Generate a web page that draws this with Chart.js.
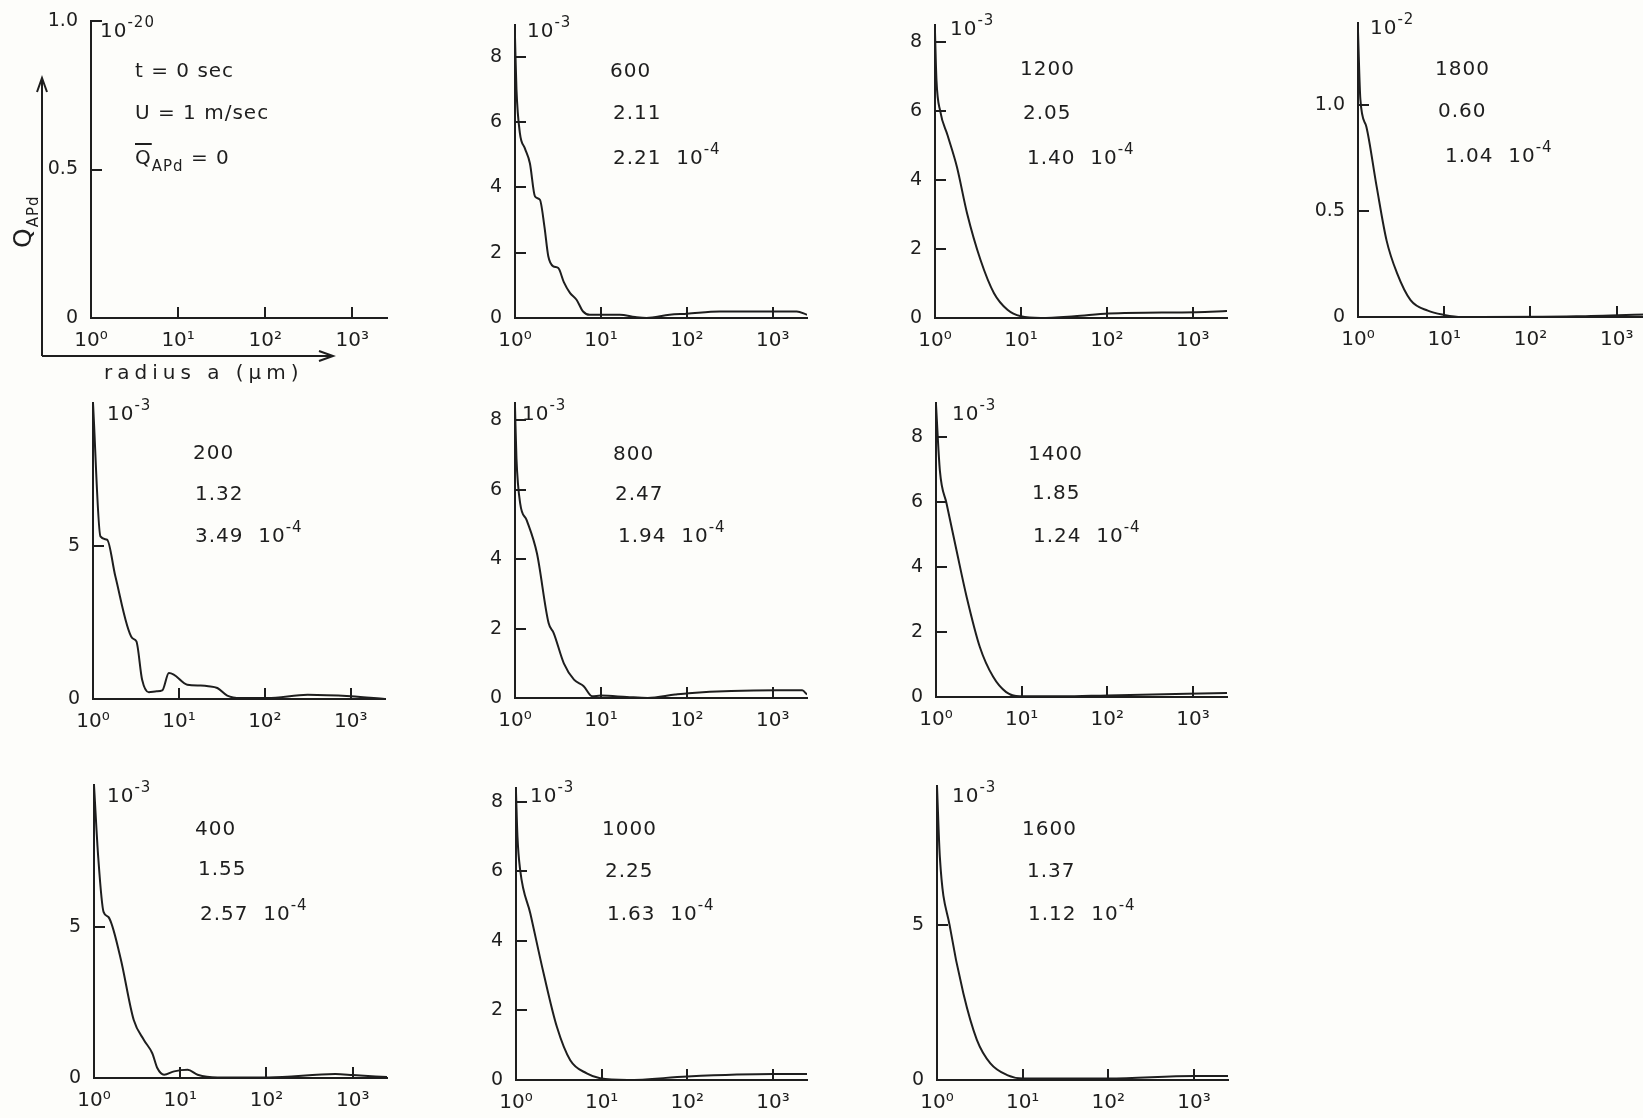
<!DOCTYPE html>
<html>
<head>
<meta charset="utf-8">
<script src="https://cdn.jsdelivr.net/npm/chart.js@4.4.1/dist/chart.umd.min.js"></script>
<style>
body{margin:0;width:1643px;height:1118px;overflow:hidden;background:#fdfdfa;font-family:"DejaVu Sans",sans-serif;color:#1e1e1e;position:relative}
canvas{position:absolute}
.t{position:absolute;font-size:20px;line-height:20px;letter-spacing:1px;white-space:nowrap}
.t sup{font-size:15px;vertical-align:0;position:relative;top:-10px}
.t sub{font-size:15px;vertical-align:0;position:relative;top:7px}
</style>
</head>
<body>
<svg width="1643" height="1118" style="position:absolute;left:0;top:0" id="arrows">
  <g stroke="#1e1e1e" stroke-width="2" fill="none">
    <line x1="42" y1="356" x2="42" y2="79"/>
    <polyline points="37,92 42,78 47,92"/>
    <line x1="42" y1="356" x2="332" y2="356"/>
    <polyline points="319,351 333,356 319,361"/>
  </g>
</svg>
<script>
// radius a (µm) and Q_APd per panel
var r0 = [];
var q0 = [];

var r600 = [1, 1.04, 1.14, 1.3, 1.49, 1.71, 1.95, 2.2, 2.44, 2.79, 3.19, 3.7, 4.36, 5.2, 6.2, 7.4, 9.8, 16.6, 25, 34, 63, 100, 240, 600, 1900, 2500];
var q600 = [8.6, 7.0, 5.66, 5.2, 4.74, 3.72, 3.62, 2.8, 1.89, 1.58, 1.53, 1.1, 0.77, 0.56, 0.2, 0.1, 0.1, 0.1, 0.03, 0.0, 0.1, 0.13, 0.2, 0.2, 0.2, 0.1];

var r1200 = [1, 1.04, 1.15, 1.4, 1.8, 2.36, 3.38, 4.86, 6.97, 10, 17, 42, 105, 1100, 2500];
var q1200 = [8.3, 6.9, 6.0, 5.3, 4.38, 3.04, 1.69, 0.72, 0.24, 0.05, 0, 0.05, 0.13, 0.17, 0.2];

var r1800 = [1, 1.065, 1.25, 1.64, 2.15, 2.82, 4.07, 6.45, 10, 16, 340, 2500];
var q1800 = [1.35, 1.03, 0.90, 0.62, 0.36, 0.21, 0.08, 0.03, 0.01, 0, 0.003, 0.013];

var r200 = [1, 1.22, 1.46, 1.82, 2.85, 3.2, 3.73, 4.47, 5.5, 6.4, 7.64, 8.7, 12.5, 17.9, 22, 28, 36.5, 52, 107, 315, 1000, 2500];
var q200 = [9.7, 5.33, 5.22, 4.02, 2.0, 1.89, 0.63, 0.22, 0.25, 0.28, 0.85, 0.8, 0.47, 0.44, 0.42, 0.36, 0.11, 0.03, 0.03, 0.14, 0.09, 0.0];

var r800 = [1, 1.04, 1.15, 1.37, 1.8, 2.46, 2.82, 3.7, 4.86, 6.3, 7.9, 10, 20, 35, 73, 105, 1100, 2200, 2500];
var q800 = [8.4, 6.9, 5.6, 5.12, 4.17, 2.16, 1.87, 1.0, 0.53, 0.34, 0.05, 0.07, 0.03, 0, 0.1, 0.14, 0.22, 0.22, 0.1];

var r1400 = [1, 1.11, 1.33, 1.74, 2.28, 3.25, 4.65, 6.6, 9.5, 30, 100, 2500];
var q1400 = [9.0, 6.97, 5.95, 4.5, 3.08, 1.54, 0.62, 0.15, 0.02, 0.02, 0.05, 0.12];

var r400 = [1, 1.12, 1.29, 1.47, 2.02, 2.89, 3.79, 4.74, 5.42, 6.5, 8.5, 12.2, 15.9, 27, 106, 630, 1000, 2500];
var q400 = [9.7, 7.3, 5.5, 5.33, 4.0, 1.92, 1.26, 0.82, 0.33, 0.11, 0.22, 0.27, 0.11, 0.02, 0.02, 0.13, 0.1, 0.03];

var r1000 = [1, 1.04, 1.12, 1.47, 2.1, 3.0, 4.3, 6.7, 9.6, 20, 100, 1000, 2500];
var q1000 = [8.3, 7.0, 6.03, 4.79, 3.07, 1.53, 0.57, 0.19, 0.05, 0.0, 0.1, 0.17, 0.17];

var r1600 = [1, 1.08, 1.41, 2.03, 2.92, 4.2, 6.6, 10, 100, 1000, 2500];
var q1600 = [9.5, 7.2, 4.97, 2.8, 1.3, 0.54, 0.16, 0.05, 0.05, 0.13, 0.13];

// ticks
var xTicks = [1, 10, 100, 1000];
var xTickLabels = ['10\u2070', '10\u00b9', '10\u00b2', '10\u00b3'];
var xMax = 2500;
var yTicksHalf = [0, 0.5, 1.0];
var yLabelsHalf = ['0', '0.5', '1.0'];
var yTicksEven = [0, 2, 4, 6, 8];
var yLabelsEven = ['0', '2', '4', '6', '8'];
var yTicksFive = [0, 5];
var yLabelsFive = ['0', '5'];

// panel annotations: time (s), second line, third line (x 10^-4), scale exponent
var times  = ['200', '400', '600', '800', '1000', '1200', '1400', '1600', '1800'];
var second = ['1.32', '1.55', '2.11', '2.47', '2.25', '2.05', '1.85', '1.37', '0.60'];
var third  = ['3.49', '2.57', '2.21', '1.94', '1.63', '1.40', '1.24', '1.12', '1.04'];

var ink = '#1e1e1e';

var panels = [
  {r: r0, q: q0, yMax: 1.0, yt: yTicksHalf, yl: yLabelsHalf, x0: 91, y0: 318, top: 21, dec: 87, exp: '-20', ex: 100, ey: 30},
  {r: r600, q: q600, yMax: 8.97, yt: yTicksEven, yl: yLabelsEven, x0: 515, y0: 318, top: 25, dec: 86, exp: '-3', ex: 527, ey: 30, k: 2, tx: [610, 613, 613], ty: [70, 112, 157]},
  {r: r1200, q: q1200, yMax: 8.5, yt: yTicksEven, yl: yLabelsEven, x0: 935, y0: 318, top: 25, dec: 86, exp: '-3', ex: 950, ey: 28, k: 5, tx: [1020, 1023, 1027], ty: [68, 112, 157]},
  {r: r1800, q: q1800, yMax: 1.39, yt: yTicksHalf, yl: yLabelsHalf, x0: 1358, y0: 317, top: 23, dec: 86.3, exp: '-2', ex: 1370, ey: 27, k: 8, tx: [1435, 1438, 1445], ty: [68, 110, 155]},
  {r: r200, q: q200, yMax: 9.7, yt: yTicksFive, yl: yLabelsFive, x0: 93, y0: 699, top: 403, dec: 86, exp: '-3', ex: 107, ey: 413, k: 0, tx: [193, 195, 195], ty: [452, 493, 535]},
  {r: r800, q: q800, yMax: 8.5, yt: yTicksEven, yl: yLabelsEven, x0: 515, y0: 698, top: 403, dec: 86, exp: '-3', ex: 522, ey: 413, k: 3, tx: [613, 615, 618], ty: [453, 493, 535]},
  {r: r1400, q: q1400, yMax: 9.05, yt: yTicksEven, yl: yLabelsEven, x0: 936, y0: 697, top: 403, dec: 85.7, exp: '-3', ex: 952, ey: 413, k: 6, tx: [1028, 1032, 1033], ty: [453, 492, 535]},
  {r: r400, q: q400, yMax: 9.7, yt: yTicksFive, yl: yLabelsFive, x0: 94, y0: 1078, top: 785, dec: 86.3, exp: '-3', ex: 107, ey: 795, k: 1, tx: [195, 198, 200], ty: [828, 868, 913]},
  {r: r1000, q: q1000, yMax: 8.4, yt: yTicksEven, yl: yLabelsEven, x0: 516, y0: 1080, top: 788, dec: 85.7, exp: '-3', ex: 530, ey: 795, k: 4, tx: [602, 605, 607], ty: [828, 870, 913]},
  {r: r1600, q: q1600, yMax: 9.5, yt: yTicksFive, yl: yLabelsFive, x0: 937, y0: 1080, top: 786, dec: 85.7, exp: '-3', ex: 952, ey: 795, k: 7, tx: [1022, 1027, 1028], ty: [828, 870, 913]}
];

function addText(html, x, cy, extra) {
  var d = document.createElement('div');
  d.className = 't';
  d.innerHTML = html;
  d.style.left = x + 'px';
  d.style.top = (cy - 10) + 'px';
  if (extra) d.style.cssText += extra;
  document.body.appendChild(d);
  return d;
}

function makePanel(p) {
  // PT must exceed label half height + tick padding, or Chart.js pushes the plot down
  var YW = 60, PT = 45, PR = 10, XH = 50;
  var plotW = p.dec * Math.log10(xMax);
  var plotH = p.y0 - p.top;
  var cv = document.createElement('canvas');
  cv.width = Math.round(YW + plotW + PR);
  cv.height = Math.round(PT + plotH + XH);
  cv.style.left = (p.x0 - YW) + 'px';
  cv.style.top = (p.top - PT) + 'px';
  document.body.appendChild(cv);

  var pts = p.r.map(function (r, i) { return {x: r, y: p.q[i]}; });

  new Chart(cv, {
    type: 'line',
    data: {
      datasets: [{
        data: pts,
        borderColor: ink,
        borderWidth: 2,
        pointRadius: 0,
        fill: false,
        cubicInterpolationMode: 'monotone'
      }]
    },
    options: {
      responsive: false,
      animation: false,
      events: [],
      layout: {padding: {top: PT, right: PR, left: 0, bottom: 0}},
      plugins: {legend: {display: false}, tooltip: {enabled: false}},
      scales: {
        x: {
          type: 'logarithmic',
          min: 1,
          max: xMax,
          afterFit: function (s) { s.height = XH; },
          afterBuildTicks: function (s) { s.ticks = xTicks.map(function (v) { return {value: v}; }); },
          ticks: {
            autoSkip: false,
            maxRotation: 0,
            padding: 22,
            color: ink,
            font: {family: 'DejaVu Sans', size: 20},
            callback: function (v, i) { return xTickLabels[i]; }
          },
          grid: {drawOnChartArea: false, tickLength: -11, color: ink, lineWidth: 2},
          border: {color: ink, width: 2}
        },
        y: {
          type: 'linear',
          min: 0,
          max: p.yMax,
          afterFit: function (s) { s.width = YW; },
          afterBuildTicks: function (s) { s.ticks = p.yt.map(function (v) { return {value: v}; }); },
          ticks: {
            autoSkip: false,
            padding: 24,
            color: ink,
            font: {family: 'DejaVu Sans', size: 19},
            callback: function (v, i) { return p.yl[i]; }
          },
          grid: {drawOnChartArea: false, tickLength: -11, color: ink, lineWidth: 2},
          border: {color: ink, width: 2}
        }
      }
    }
  });

  addText('10<sup>' + p.exp + '</sup>', p.ex, p.ey);
  if (p.k !== undefined) {
    addText(times[p.k], p.tx[0], p.ty[0]);
    addText(second[p.k], p.tx[1], p.ty[1]);
    addText(third[p.k] + '&nbsp;&nbsp;10<sup>-4</sup>', p.tx[2], p.ty[2]);
  }
}

panels.forEach(makePanel);

// first panel legend and axis names
addText('t = 0 sec', 135, 70);
addText('U = 1 m/sec', 135, 112);
addText('<span style="text-decoration:overline">Q</span><sub>APd</sub> = 0', 135, 157);
addText('radius a (\u00b5m)', 104, 372, 'letter-spacing:5px;font-size:20px');
addText('Q<sub>APd</sub>', 10, 258, 'font-size:25px;line-height:26px;transform-origin:0 0;transform:rotate(-90deg)');
</script>
</body>
</html>
